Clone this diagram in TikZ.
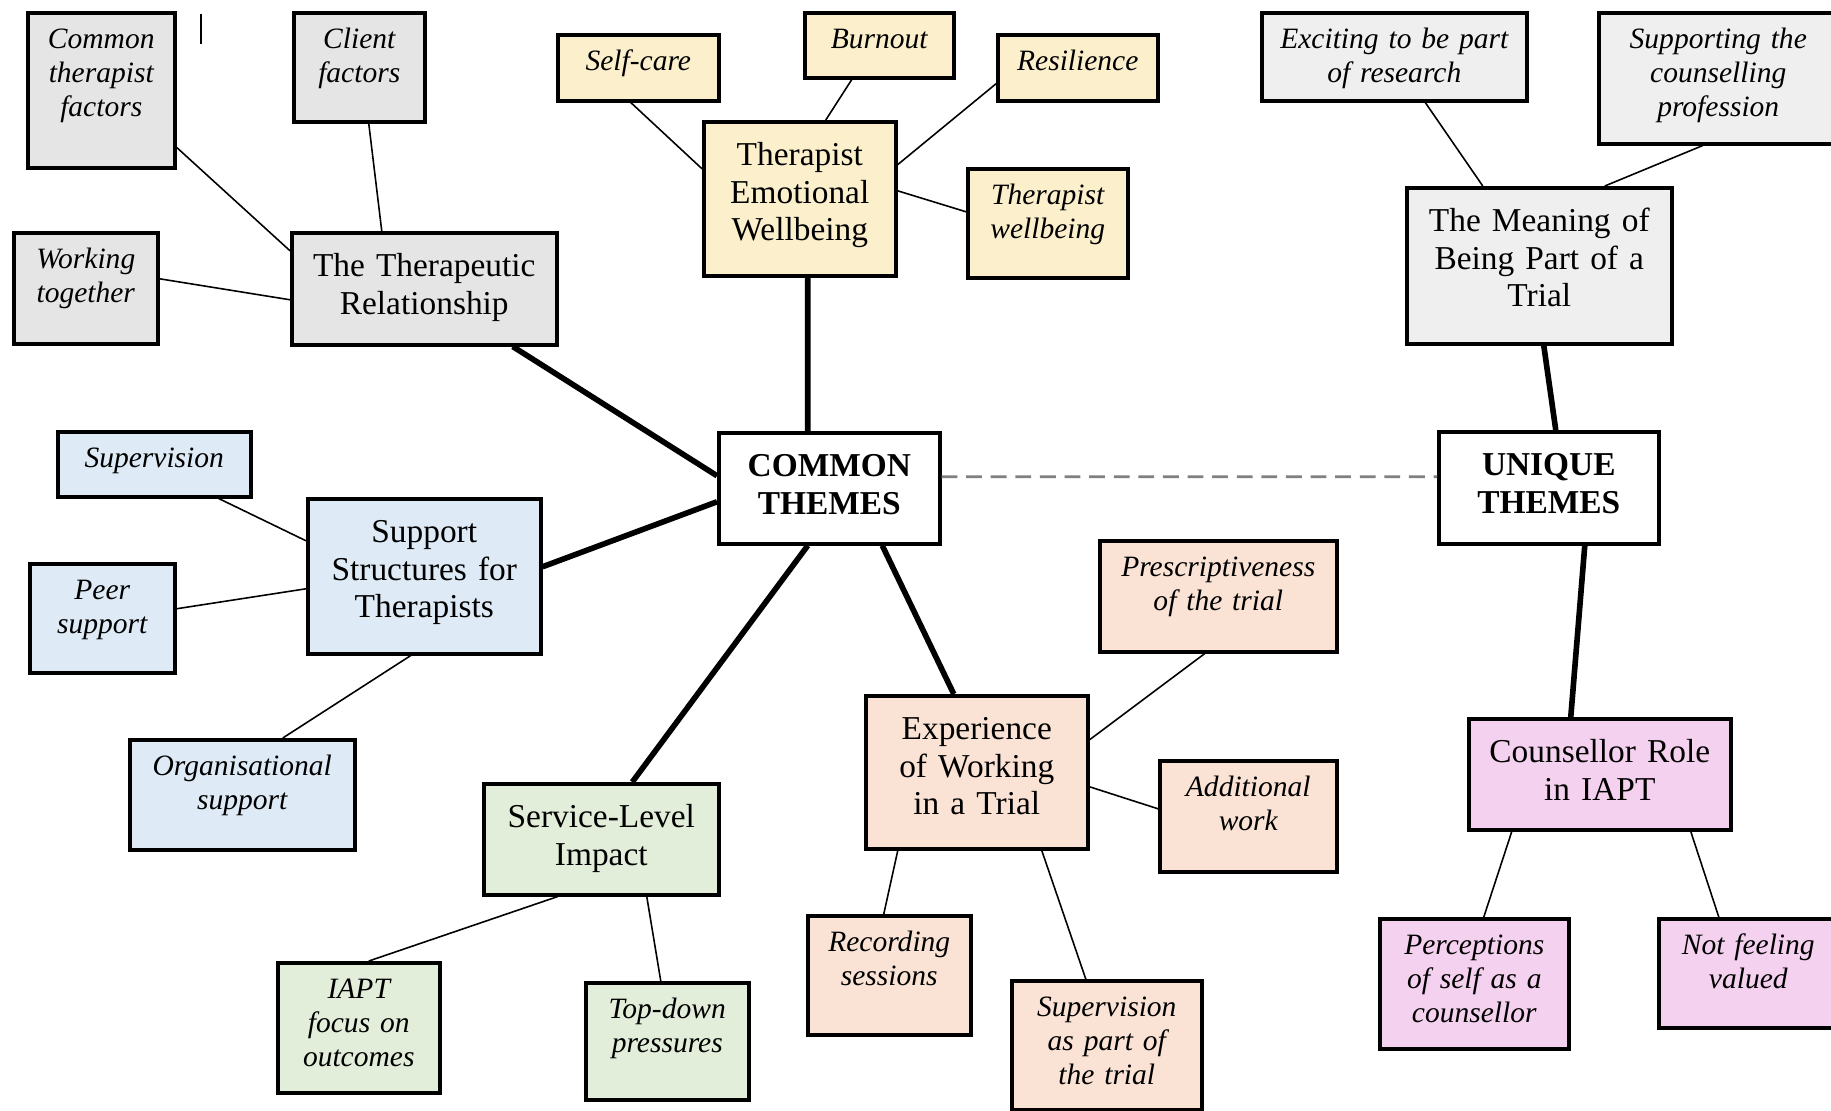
\documentclass[tikz,border=0pt]{standalone}
\usepackage{fontspec}
\setmainfont{Liberation Serif}
\usepackage{tikz}

\definecolor{relgrey}{HTML}{E5E5E5}
\definecolor{trialgrey}{HTML}{EFEFEF}
\definecolor{wellyellow}{HTML}{FCEFCC}
\definecolor{supblue}{HTML}{DEEAF5}
\definecolor{svcgreen}{HTML}{E2EEDA}
\definecolor{trialpeach}{HTML}{FAE3D5}
\definecolor{rolepink}{HTML}{F4D1EE}

\newcommand{\themefont}{\fontsize{9.5}{10.7}\selectfont}
\newcommand{\leaffont}{\fontsize{8.4}{9.7}\selectfont\itshape}

\begin{document}
\begin{tikzpicture}[
	theme/.style={draw,line width=1pt,anchor=north west,align=center,inner xsep=0pt,inner ysep=0pt,font=\themefont,text height=0.44cm},
	leaf/.style={draw,line width=1pt,anchor=north west,align=center,inner xsep=0pt,inner ysep=0pt,font=\leaffont,text height=0.36cm},
	twig/.style={line width=0.45pt},
	trunk/.style={line width=1.6pt},
	]
	\useasboundingbox (0,0) rectangle (18.31,-11.10);
	% therapeutic relationship
	\node[leaf,fill=relgrey,text width=1.47cm,text depth=1.19cm] (ctf) at (0.26,-0.11) {Common\\therapist\\factors};
	\node[leaf,fill=relgrey,text width=1.31cm,text depth=0.73cm] (cf) at (2.92,-0.11) {Client\\factors};
	\node[leaf,fill=relgrey,text width=1.44cm,text depth=0.75cm] (wt) at (0.12,-2.31) {Working\\together};
	\node[theme,fill=relgrey,text width=2.65cm,text depth=0.68cm] (tr) at (2.90,-2.31) {The Therapeutic\\Relationship};
	% emotional wellbeing
	\node[leaf,fill=wellyellow,text width=1.61cm,text depth=0.30cm] (sc) at (5.56,-0.33) {Self-care};
	\node[leaf,fill=wellyellow,text width=1.49cm,text depth=0.29cm] (bo) at (8.03,-0.11) {Burnout};
	\node[leaf,fill=wellyellow,text width=1.60cm,text depth=0.30cm] (res) at (9.96,-0.33) {Resilience};
	\node[theme,fill=wellyellow,text width=1.92cm,text depth=1.10cm] (tew) at (7.02,-1.20) {Therapist\\Emotional\\Wellbeing};
	\node[leaf,fill=wellyellow,text width=1.60cm,text depth=0.73cm] (twb) at (9.66,-1.67) {Therapist\\wellbeing};
	% meaning of the trial
	\node[leaf,fill=trialgrey,text width=2.65cm,text depth=0.52cm] (ex) at (12.60,-0.11) {Exciting to be part\\of research};
	\node[leaf,fill=trialgrey,text width=2.39cm,text depth=0.95cm] (sup) at (15.97,-0.11) {Supporting the\\counselling\\profession};
	\node[theme,fill=trialgrey,text width=2.65cm,text depth=1.12cm] (mean) at (14.05,-1.86) {The Meaning of\\Being Part of a\\Trial};
	% centre
	\node[theme,fill=white,text width=2.21cm,text depth=0.67cm,font=\themefont\bfseries] (common) at (7.17,-4.31) {COMMON\\THEMES};
	\node[theme,fill=white,text width=2.20cm,text depth=0.68cm,font=\themefont\bfseries] (unique) at (14.37,-4.30) {UNIQUE\\THEMES};
	% support structures
	\node[leaf,fill=supblue,text width=1.93cm,text depth=0.29cm] (spv) at (0.56,-4.30) {Supervision};
	\node[theme,fill=supblue,text width=2.33cm,text depth=1.11cm] (sst) at (3.06,-4.97) {Support\\Structures for\\Therapists};
	\node[leaf,fill=supblue,text width=1.45cm,text depth=0.73cm] (peer) at (0.28,-5.62) {Peer\\support};
	\node[leaf,fill=supblue,text width=2.25cm,text depth=0.74cm] (org) at (1.28,-7.38) {Organisational\\support};
	% service level
	\node[theme,fill=svcgreen,text width=2.35cm,text depth=0.67cm] (sli) at (4.82,-7.82) {Service-Level\\Impact};
	\node[leaf,fill=svcgreen,text width=1.62cm,text depth=0.94cm] (iapt) at (2.76,-9.61) {IAPT\\focus on\\outcomes};
	\node[leaf,fill=svcgreen,text width=1.63cm,text depth=0.81cm] (td) at (5.84,-9.81) {Top-down\\pressures};
	% working in a trial
	\node[theme,fill=trialpeach,text width=2.22cm,text depth=1.09cm] (ewt) at (8.64,-6.94) {Experience\\of Working\\in a Trial};
	\node[leaf,fill=trialpeach,text width=2.37cm,text depth=0.75cm] (pre) at (10.98,-5.39) {Prescriptiveness\\of the trial};
	\node[leaf,fill=trialpeach,text width=1.77cm,text depth=0.75cm] (add) at (11.58,-7.59) {Additional\\work};
	\node[leaf,fill=trialpeach,text width=1.63cm,text depth=0.83cm] (rec) at (8.06,-9.14) {Recording\\sessions};
	\node[leaf,fill=trialpeach,text width=1.90cm,text depth=0.93cm] (spt) at (10.10,-9.79) {Supervision\\as part of\\the trial};
	% counsellor role
	\node[theme,fill=rolepink,text width=2.62cm,text depth=0.67cm] (cri) at (14.67,-7.17) {Counsellor Role\\in IAPT};
	\node[leaf,fill=rolepink,text width=1.89cm,text depth=0.94cm] (per) at (13.78,-9.17) {Perceptions\\of self as a\\counsellor};
	\node[leaf,fill=rolepink,text width=1.79cm,text depth=0.73cm] (nfv) at (16.57,-9.17) {Not feeling\\valued};

	\draw[line width=0.4pt] (2.01,-0.14) -- (2.01,-0.44);

	\draw[twig] ([yshift=-0.57cm]ctf.east) -- ([yshift=0.38cm]tr.west);
	\draw[twig] ([xshift=0.095cm]cf.south) -- ([xshift=-0.425cm]tr.north);
	\draw[twig] ([yshift=0.095cm]wt.east) -- ([yshift=-0.11cm]tr.west);
	\draw[twig] ([xshift=-0.075cm]sc.south) -- ([yshift=0.30cm]tew.west);
	\draw[twig] ([xshift=-0.275cm]bo.south) -- ([xshift=0.26cm]tew.north);
	\draw[twig] ([yshift=-0.16cm]res.west) -- ([yshift=0.34cm]tew.east);
	\draw[twig] ([yshift=0.08cm]tew.east) -- ([yshift=0.115cm]twb.west);
	\draw[twig] ([xshift=0.31cm]ex.south) -- ([xshift=-0.565cm]mean.north);
	\draw[twig] ([xshift=-0.155cm]sup.south) -- ([xshift=0.655cm]mean.north);
	\draw[twig] ([xshift=0.645cm]spv.south) -- ([yshift=0.355cm]sst.west);
	\draw[twig] ([yshift=0.095cm]peer.east) -- ([yshift=-0.125cm]sst.west);
	\draw[twig] ([xshift=0.405cm]org.north) -- ([xshift=-0.135cm]sst.south);
	\draw[twig] ([xshift=0.10cm]iapt.north) -- ([xshift=-0.435cm]sli.south);
	\draw[twig] ([xshift=-0.065cm]td.north) -- ([xshift=0.455cm]sli.south);
	\draw[twig] ([xshift=-0.135cm]pre.south) -- ([yshift=0.325cm]ewt.east);
	\draw[twig] ([yshift=0.075cm]add.west) -- ([yshift=-0.145cm]ewt.east);
	\draw[twig] ([xshift=-0.055cm]rec.north) -- ([xshift=-0.79cm]ewt.south);
	\draw[twig] ([xshift=-0.21cm]spt.north) -- ([xshift=0.65cm]ewt.south);
	\draw[twig] ([xshift=0.095cm]per.north) -- ([xshift=-0.88cm]cri.south);
	\draw[twig] ([xshift=-0.295cm]nfv.north) -- ([xshift=0.91cm]cri.south);

	\draw[trunk] ([xshift=0.885cm]tr.south) -- ([yshift=0.125cm]common.west);
	\draw[trunk] ([xshift=0.08cm]tew.south) -- ([xshift=-0.215cm]common.north);
	\draw[trunk] ([yshift=0.095cm]sst.east) -- ([yshift=-0.135cm]common.west);
	\draw[trunk] ([xshift=0.31cm]sli.north) -- ([xshift=-0.215cm]common.south);
	\draw[trunk] ([xshift=-0.23cm]ewt.north) -- ([xshift=0.53cm]common.south);
	\draw[trunk] ([xshift=0.045cm]mean.south) -- ([xshift=0.07cm]unique.north);
	\draw[trunk] ([xshift=-0.29cm]cri.north) -- ([xshift=0.36cm]unique.south);
	\draw[line width=0.8pt,gray,dash pattern=on 4.5pt off 2.5pt] ([yshift=0.115cm]common.east) -- ([yshift=0.11cm]unique.west);
\end{tikzpicture}
\end{document}
